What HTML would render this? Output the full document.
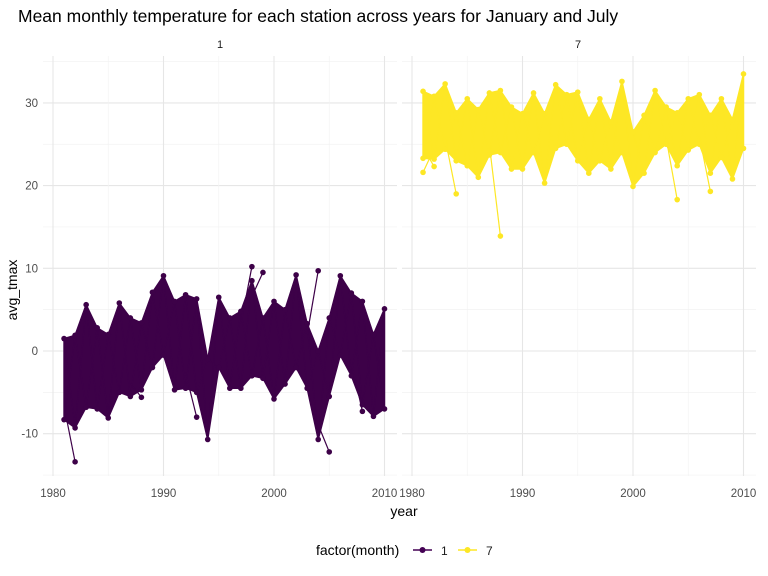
<!DOCTYPE html>
<html><head><meta charset="utf-8"><style>
body{margin:0;background:#fff;}
svg{display:block;font-family:"Liberation Sans",sans-serif;}
</style></head><body>
<svg id="chart" width="768" height="576" viewBox="0 0 768 576" xmlns="http://www.w3.org/2000/svg">
<text x="18" y="22" font-size="17.5" fill="#000">Mean monthly temperature for each station across years for January and July</text>
<g id="grid"></g>
<g id="marks"></g>
<g id="axes"></g>
<text x="220" y="48" font-size="11" fill="#1a1a1a" text-anchor="middle">1</text>
<text x="578" y="48" font-size="11" fill="#1a1a1a" text-anchor="middle">7</text>
<text transform="translate(17,290) rotate(-90)" font-size="14" text-anchor="middle" fill="#000">avg_tmax</text>
<text x="404" y="516" font-size="14" text-anchor="middle" fill="#000">year</text>
<g>
<text x="316" y="555" font-size="14" fill="#000">factor(month)</text>
<g><line x1="413" y1="550" x2="432" y2="550" stroke="#440154" stroke-width="1.5"/><circle cx="422.5" cy="550" r="3" fill="#440154"/><text x="441" y="555" font-size="12" fill="#1a1a1a">1</text></g>
<g><line x1="458" y1="550" x2="477" y2="550" stroke="#FDE725" stroke-width="1.5"/><circle cx="467.5" cy="550" r="3" fill="#FDE725"/><text x="486" y="555" font-size="12" fill="#1a1a1a">7</text></g>
</g>
</svg>
<script>
const years=[1981,1982,1983,1984,1985,1986,1987,1988,1989,1990,1991,1992,1993,1994,1995,1996,1997,1998,1999,2000,2001,2002,2003,2004,2005,2006,2007,2008,2009,2010];
const janMax=[1.5,1.9,5.6,2.8,2.0,5.8,4.0,3.4,7.1,9.1,6.0,6.8,6.3,-1.0,6.5,4.0,4.8,8.5,4.0,6.0,5.0,9.2,3.3,0.0,4.0,9.1,7.0,6.0,2.0,5.1];
const janMin=[-8.3,-9.3,-6.8,-7.0,-8.1,-5.0,-5.5,-4.7,-2.0,-0.5,-4.7,-4.5,-5.0,-10.7,-2.0,-4.5,-4.5,-3.0,-3.3,-5.8,-4.0,-2.0,-4.5,-10.7,-5.5,-0.5,-3.0,-6.5,-7.9,-7.0];
const janOutYears=[1982,1993,1998,1999,2004,2005,2008,1988];
const janOutVals=[-13.4,-8.0,10.2,9.5,9.7,-12.2,-7.3,-5.6];
const julMax=[31.4,30.8,32.3,28.8,30.5,29.2,31.2,31.5,29.5,28.7,31.2,28.7,32.2,31.0,31.3,28.0,30.5,27.7,32.6,26.5,28.5,31.5,29.5,28.8,30.5,31.0,28.5,30.5,28.0,33.5];
const julMin=[23.3,23.2,24.4,23.0,22.4,21.0,23.7,24.0,22.0,22.0,24.0,20.3,24.5,25.0,23.0,21.5,23.0,22.0,24.0,19.9,21.5,24.0,25.0,22.4,24.3,25.0,21.5,23.4,20.8,24.5];
const julOutYears=[1981,1982,1984,1988,2004,2007];
const julOutVals=[21.6,22.3,19.0,13.9,18.3,19.3];
const yTicks=[-10,0,10,20,30];
const xTicks=[1980,1990,2000,2010];

const NS="http://www.w3.org/2000/svg";
const top0=56,bot0=476;
const panels=[{x0:43,x1:397,o:53},{x0:402,x1:756,o:412}];
const yS=v=>351-v*8.27;
function mk(t,a,p){const e=document.createElementNS(NS,t);for(const k in a)e.setAttribute(k,a[k]);p.appendChild(e);return e;}
const grid=document.getElementById('grid'),marks=document.getElementById('marks'),axes=document.getElementById('axes');
panels.forEach((P,pi)=>{
  const xS=y=>P.o+(y-1980)*11.05;
  for(let v=-15;v<=35;v+=5){const major=v%10===0;
    const l=mk('line',{x1:P.x0,x2:P.x1,y1:yS(v),y2:yS(v),stroke:major?'#e6e6e6':'#f2f2f2','stroke-width':major?1.1:0.7},grid);
    
    }
  for(let y=1980;y<=2010;y+=5){const major=y%10===0;
    const l=mk('line',{x1:xS(y),x2:xS(y),y1:top0,y2:bot0,stroke:major?'#e6e6e6':'#f2f2f2','stroke-width':major?1.1:0.7},grid);
    
    }
  xTicks.forEach(t=>{const tx=mk('text',{x:xS(t),y:497,'font-size':11.5,fill:'#4d4d4d','text-anchor':'middle'},axes);tx.textContent=t;
    
    });
  if(pi===0){yTicks.forEach(t=>{const tx=mk('text',{x:38,y:yS(t)+4,'font-size':11.5,fill:'#4d4d4d','text-anchor':'end'},axes);tx.textContent=t;
    
    });}
  const mx=pi===0?janMax:julMax, mn=pi===0?janMin:julMin, col=pi===0?'#3d0148':'#FDE725';
  const oy=pi===0?janOutYears:julOutYears, ov=pi===0?janOutVals:julOutVals;
  let pts=years.map((y,i)=>xS(y)+','+yS(mx[i]));
  pts=pts.concat(years.map((y,i)=>xS(y)+','+yS(mn[i])).reverse());
  const band=mk('polygon',{points:pts.join(' '),fill:col,stroke:col,'stroke-width':1.5,'stroke-linejoin':'round'},marks);
  
  
  for(let i=0;i<years.length-1;i++){
    const a=mk('line',{x1:xS(years[i]),y1:yS(mx[i]),x2:xS(years[i+1]),y2:yS(mn[i+1]),stroke:col,'stroke-width':1.2},marks);
    
    
    const b=mk('line',{x1:xS(years[i]),y1:yS(mn[i]),x2:xS(years[i+1]),y2:yS(mx[i+1]),stroke:col,'stroke-width':1.2},marks);
    
    
  }
  years.forEach((y,i)=>{[mx[i],mn[i]].forEach(v=>{const c=mk('circle',{cx:xS(y),cy:yS(v),r:2.8,fill:col},marks);
    
    });});
  oy.forEach((y,i)=>{const idx=years.indexOf(y);const nb=idx>0?idx-1:idx+1;
    const l=mk('line',{x1:xS(years[nb]),y1:yS((mx[nb]+mn[nb])/2+(ov[i]>(mx[idx]+mn[idx])/2?(mx[nb]-mn[nb])/3:-(mx[nb]-mn[nb])/3)),x2:xS(y),y2:yS(ov[i]),stroke:col,'stroke-width':1.2},marks);
    
    
    const c=mk('circle',{cx:xS(y),cy:yS(ov[i]),r:2.8,fill:col},marks);
    
    });
});
</script>
</body></html>
